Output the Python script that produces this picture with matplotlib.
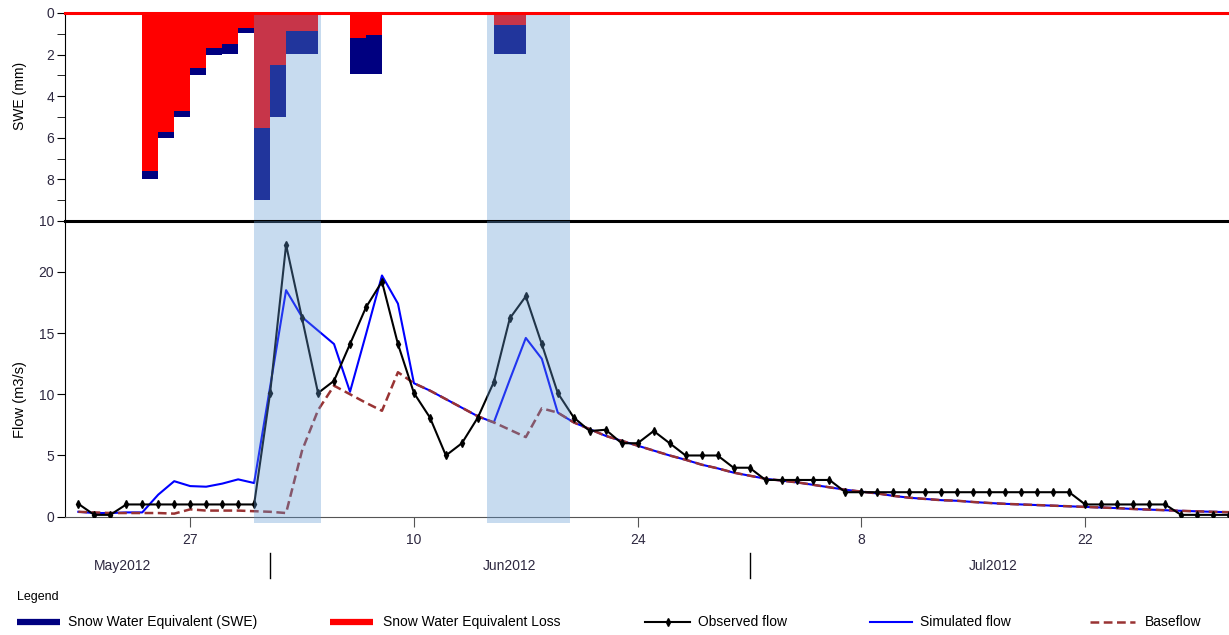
import numpy as np
import pandas as pd
import matplotlib
matplotlib.use('Agg')
import matplotlib.pyplot as plt
import matplotlib.dates as mdates
from matplotlib.lines import Line2D

plt.rcParams['font.family'] = ['Liberation Sans', 'DejaVu Sans']

# Daily series, 20 May 2012 to 31 Jul 2012
dates = pd.date_range('2012-05-20', '2012-07-31', freq='D')

observed = [1.05, 0.15, 0.15, 1, 1, 1, 1, 1, 1, 1, 1, 1,
            10.1, 22.2, 16.2, 10.1, 11.1, 14.1, 17.1, 19.2, 14.1, 10.1,
            8.1, 5.0, 6.0, 8.1, 11.0, 16.2, 18.0, 14.1, 10.1,
            8.1, 7.0, 7.1, 6.0, 6.0, 7.0, 6.0, 5.0, 5.0, 5.0, 4.0, 4.0,
            3, 3, 3, 3, 3,
            2, 2, 2, 2, 2, 2, 2, 2, 2, 2, 2, 2, 2, 2, 2,
            1, 1, 1, 1, 1, 1,
            0.15, 0.15, 0.15, 0.15]

baseflow = [0.4, 0.35, 0.3, 0.3, 0.3, 0.3, 0.25, 0.6, 0.5, 0.5, 0.5, 0.45, 0.4, 0.3,
            5.4, 8.7, 10.7, 10.0, 9.3, 8.65, 11.8,
            10.9, 10.3, 9.6, 8.9, 8.2, 7.7, 7.1, 6.5, 8.85, 8.5,
            7.7, 7.15, 6.6, 6.2, 5.8, 5.4, 5.0, 4.65, 4.25, 3.95, 3.6, 3.35, 3.1, 2.95, 2.8,
            2.6, 2.4, 2.2, 2.05, 1.9, 1.7, 1.55, 1.45, 1.35, 1.3, 1.2, 1.12, 1.05, 1.0,
            0.95, 0.9, 0.85, 0.8, 0.75, 0.7, 0.63, 0.58, 0.53, 0.48, 0.44, 0.4, 0.37]

# simulated flow follows the baseflow after 19 June
simulated = [0.4, 0.3, 0.3, 0.35, 0.35, 1.8, 2.9, 2.5, 2.45, 2.7, 3.05, 2.75,
             10.6, 18.5, 16.3, 15.2, 14.1, 10.2, 14.9, 19.7, 17.4,
             10.9, 10.3, 9.6, 8.9, 8.2, 7.7, 11.2, 14.6, 12.9, 8.5] + baseflow[31:]

# snow water equivalent (mm) and its loss, per day
swe_days = pd.to_datetime(['2012-05-24', '2012-05-25', '2012-05-26', '2012-05-27',
                           '2012-05-28', '2012-05-29', '2012-05-30', '2012-05-31',
                           '2012-06-01', '2012-06-02', '2012-06-03',
                           '2012-06-06', '2012-06-07', '2012-06-15', '2012-06-16'])
swe = [8.0, 6.0, 5.0, 3.0, 2.0, 1.95, 0.95, 9.0, 5.0, 1.95, 1.95, 2.95, 2.95, 1.95, 1.95]
swe_loss = [7.6, 5.7, 4.7, 2.65, 1.7, 1.5, 0.72, 5.55, 2.5, 0.86, 0.86, 1.2, 1.05, 0.6, 0.6]

# rain events (shaded)
events = [('2012-05-31 00:00', '2012-06-04 05:00'),
          ('2012-06-14 14:00', '2012-06-19 19:00')]

day_ticks = pd.to_datetime(['2012-05-27', '2012-06-10', '2012-06-24', '2012-07-08', '2012-07-22'])
day_labels = ['27', '10', '24', '8', '22']
month_labels = ['May2012', 'Jun2012', 'Jul2012']
month_starts = pd.to_datetime(['2012-06-01', '2012-07-01'])

tick_color = '#2d2840'
shade = (96 / 255, 153 / 255, 211 / 255)

W, H = 1229, 635
fig = plt.figure(figsize=(W / 100, H / 100), dpi=100)
ax_swe = fig.add_axes([65 / W, 1 - 221 / H, 1164 / W, 208 / H])
ax_q = fig.add_axes([65 / W, 1 - 516.7 / H, 1164 / W, 295.7 / H], sharex=ax_swe)

# --- SWE panel ---
ax_swe.bar(swe_days, swe, width=1, align='edge', color='#000080', zorder=2)
ax_swe.bar(swe_days, swe_loss, width=1, align='edge', color='#ff0000', zorder=3)
ax_swe.axhline(0, color='#ff0000', lw=2.2, clip_on=False, zorder=12)
ax_swe.set_ylim(10, 0)
ax_swe.set_yticks(range(0, 11, 2))
ax_swe.set_yticks(range(1, 10, 2), minor=True)
ax_swe.set_ylabel('SWE (mm)', fontsize=10)
ax_swe.yaxis.set_label_coords(-0.033, 0.60)
for s in ['top', 'right', 'bottom']:
    ax_swe.spines[s].set_visible(False)
ax_swe.tick_params(axis='x', bottom=False, labelbottom=False)

# --- Flow panel ---
ax_q.plot(dates, simulated, color='#0000ff', lw=1.5, zorder=3)
ax_q.plot(dates, baseflow, color='#993333', lw=1.8, ls=(0, (3.5, 1.8)), zorder=4)
ax_q.plot(dates, observed, color='black', lw=1.5, marker='d', ms=4, zorder=5)
ax_q.set_ylim(0, 24.15)
ax_q.set_yticks(range(0, 21, 5))
ax_q.set_ylabel('Flow (m3/s)', fontsize=10.5)
ax_q.yaxis.set_label_coords(-0.033, 0.395)
ax_q.spines['right'].set_visible(False)
ax_q.spines['top'].set_linewidth(2.2)
ax_q.spines['bottom'].set_color('#555555')

ax_q.set_xlim(dates[0] - pd.Timedelta(hours=20), dates[-1])
ax_q.set_xticks(day_ticks)
ax_q.set_xticklabels(day_labels)

for ax in (ax_swe, ax_q):
    ax.tick_params(axis='both', which='both', direction='out', length=6,
                   labelsize=10, labelcolor=tick_color, pad=2)
ax_q.tick_params(axis='x', length=7, pad=5, color='#555555')

for s, e in events:
    ax_swe.axvspan(pd.Timestamp(s), pd.Timestamp(e), ymax=0.99, color=shade,
                   alpha=0.35, lw=0, zorder=10)
    ax_q.axvspan(pd.Timestamp(s), pd.Timestamp(e), ymin=-0.021, color=shade,
                 alpha=0.35, lw=0, zorder=10, clip_on=False)

# month row below the day ticks
trans = ax_q.get_xaxis_transform()
month_pos = [dates[0] + pd.Timedelta(hours=66), pd.Timestamp('2012-06-16'),
             pd.Timestamp('2012-07-16 06:00')]
for pos, lab in zip(month_pos, month_labels):
    ax_q.text(pos, -0.167, lab, transform=trans, ha='center', va='center',
              fontsize=10, color=tick_color)
for m in month_starts:
    ax_q.add_line(Line2D([m, m], [-0.123, -0.207], transform=trans,
                         color='black', lw=1, clip_on=False))

# legend row
fig.text(17 / W, 1 - 597 / H, 'Legend', fontsize=9, va='center', ha='left')
ly = 1 - 622 / H
legend_items = [
    (17, 60, dict(color='#000080', lw=4.5, solid_capstyle='butt'), 'Snow Water Equivalent (SWE)', 68),
    (330, 373, dict(color='#ff0000', lw=4.5, solid_capstyle='butt'), 'Snow Water Equivalent Loss', 383),
    (645, 690, dict(color='black', lw=1.5), 'Observed flow', 698),
    (870, 912, dict(color='#0000ff', lw=1.5), 'Simulated flow', 920),
    (1090, 1135, dict(color='#993333', lw=1.8, ls=(0, (3.5, 1.8))), 'Baseflow', 1145),
]
for x0, x1, style, lab, tx in legend_items:
    fig.add_artist(Line2D([x0 / W, x1 / W], [ly, ly], transform=fig.transFigure, **style))
    fig.text(tx / W, ly, lab, fontsize=10, va='center', ha='left')
fig.add_artist(Line2D([667.5 / W], [ly], transform=fig.transFigure, marker='d',
                      ms=4, color='black', lw=0))

fig.savefig('out.png', dpi=100)
